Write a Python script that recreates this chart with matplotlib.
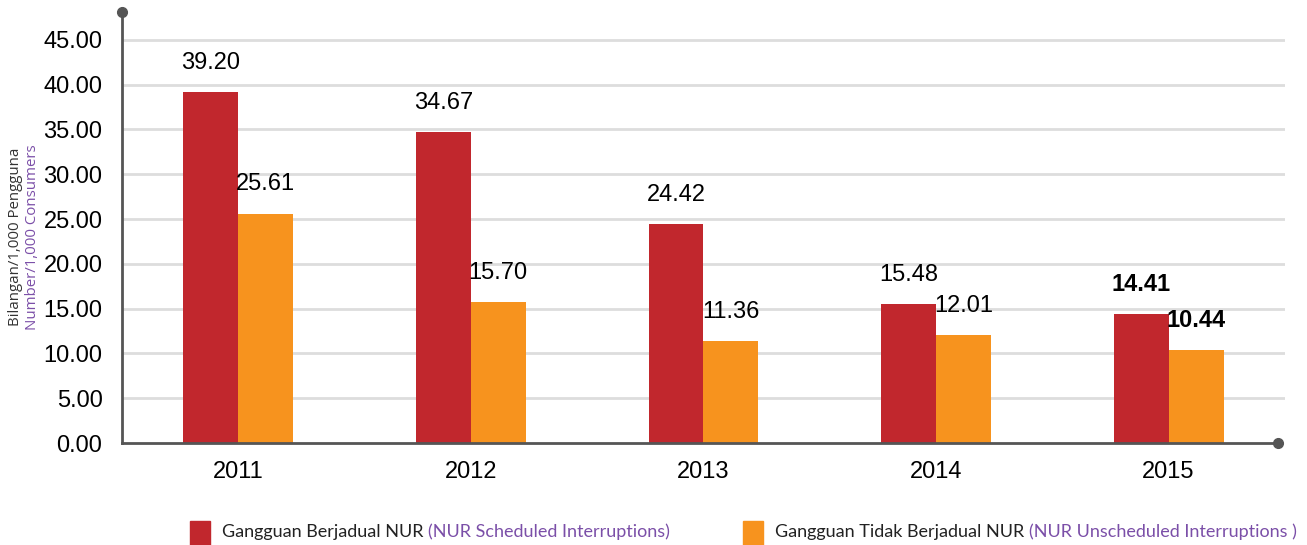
import numpy as np
import matplotlib.pyplot as plt
from matplotlib.patches import Rectangle

years = ['2011', '2012', '2013', '2014', '2015']
scheduled = [39.20, 34.67, 24.42, 15.48, 14.41]
unscheduled = [25.61, 15.70, 11.36, 12.01, 10.44]
yticks = [0, 5, 10, 15, 20, 25, 30, 35, 40, 45]

red = '#C1272D'
orange = '#F7931E'
purple = '#7B4FA8'
axis_col = '#555555'

plt.rcParams['font.family'] = ['Liberation Sans', 'DejaVu Sans']

fig = plt.figure(figsize=(13.07, 5.45), dpi=100)
ax = fig.add_axes([0.0933, 0.187, 0.8898, 0.791])

x = np.arange(len(years))
w = 0.236
b1 = ax.bar(x - w / 2, scheduled, w, color=red, zorder=3)
b2 = ax.bar(x + w / 2, unscheduled, w, color=orange, zorder=3)

# value labels, last year in bold
for i in range(len(years)):
    fw = 'bold' if i == len(years) - 1 else 'normal'
    ax.annotate('%.2f' % scheduled[i], xy=(x[i] - w / 2, scheduled[i]), xytext=(0, 21),
                textcoords='offset points', ha='center', va='center', fontsize=17, fontweight=fw)
    ax.annotate('%.2f' % unscheduled[i], xy=(x[i] + w / 2, unscheduled[i]), xytext=(0, 21),
                textcoords='offset points', ha='center', va='center', fontsize=17, fontweight=fw)

ax.set_xlim(-0.5, 4.5)
ax.set_ylim(0, 48.1)
ax.set_yticks(yticks)
ax.set_yticklabels(['%.2f' % v for v in yticks], fontsize=17)
ax.set_xticks(x)
ax.set_xticklabels(years, fontsize=17)
ax.tick_params(length=0)
ax.tick_params(axis='y', pad=14)
ax.tick_params(axis='x', pad=13)

for v in yticks[1:]:
    ax.axhline(v, color='#DDDDDD', lw=2, zorder=1)

for s in ['top', 'right']:
    ax.spines[s].set_visible(False)
for s in ['left', 'bottom']:
    ax.spines[s].set_color(axis_col)
    ax.spines[s].set_linewidth(2)
    ax.spines[s].set_zorder(4)
ax.spines['bottom'].set_bounds(-0.5, 4.47)

# dots at axis ends
ax.plot([-0.5], [48.1], 'o', color=axis_col, ms=7, clip_on=False, zorder=5)
ax.plot([4.47], [0], 'o', color=axis_col, ms=7, clip_on=False, zorder=5)

# y-axis title, two colours
fig.text(0.012, 0.565, 'Bilangan/1,000 Pengguna', rotation=90, ha='center', va='center',
         fontsize=10.8, color='#333333', family=['Open Sans', 'DejaVu Sans'])
fig.text(0.025, 0.565, 'Number/1,000 Consumers', rotation=90, ha='center', va='center',
         fontsize=10.8, color=purple, family=['Open Sans', 'DejaVu Sans'])

# legend drawn by hand
fig.patches.append(Rectangle((190 / 1307, 0.0), 20 / 1307, 24 / 545, transform=fig.transFigure,
                             color=red, figure=fig))
fig.patches.append(Rectangle((743 / 1307, 0.0), 20 / 1307, 24 / 545, transform=fig.transFigure,
                             color=orange, figure=fig))
lf = ['Lato', 'DejaVu Sans']
t1 = fig.text(222 / 1307, 13 / 545, 'Gangguan Berjadual NUR ', fontsize=13, color='#222222',
              va='center', family=lf)
t3 = fig.text(775 / 1307, 13 / 545, 'Gangguan Tidak Berjadual NUR ', fontsize=13, color='#222222',
              va='center', family=lf)
fig.canvas.draw()
r = fig.canvas.get_renderer()
e1 = t1.get_window_extent(r)
e3 = t3.get_window_extent(r)
fig.text(e1.x1 / 1307, 13 / 545, '(NUR Scheduled Interruptions)', fontsize=13, color=purple,
         va='center', family=lf)
fig.text(e3.x1 / 1307, 13 / 545, '(NUR Unscheduled Interruptions )', fontsize=13, color=purple,
         va='center', family=lf)

fig.savefig('out.png', dpi=100)
